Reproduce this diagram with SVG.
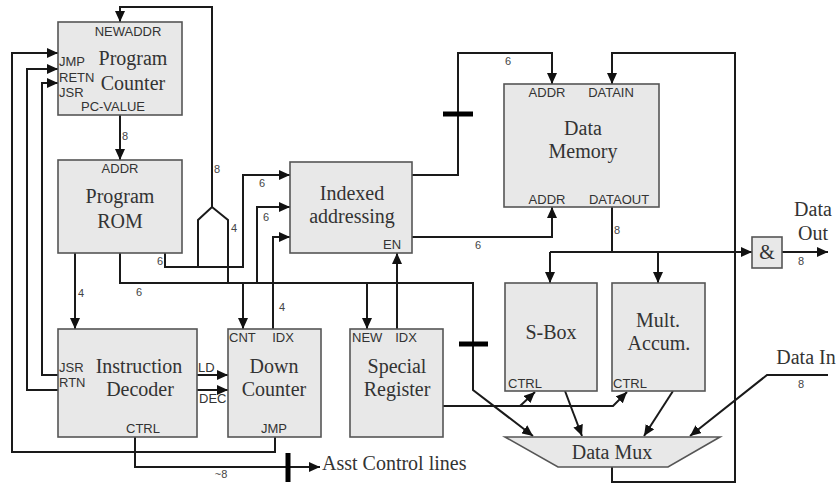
<svg xmlns="http://www.w3.org/2000/svg" width="838" height="486" viewBox="0 0 838 486">
<defs>
<marker id="ah" markerUnits="userSpaceOnUse" markerWidth="12" markerHeight="10" refX="11" refY="5" orient="auto">
<path d="M0,0 L11,5 L0,10 Z" fill="#111"/>
</marker>
<style>
.box{fill:#e8e8e8;stroke:#555;stroke-width:1.6}
.w{fill:none;stroke:#1a1a1a;stroke-width:2}
.a{fill:none;stroke:#1a1a1a;stroke-width:2;marker-end:url(#ah)}
.tk{stroke:#000;stroke-width:5}
.t{font-family:"Liberation Serif",serif;font-size:20px;fill:#333;text-anchor:middle}
.s{font-family:"Liberation Sans",sans-serif;font-size:13px;fill:#333}
.n{font-family:"Liberation Sans",sans-serif;font-size:11px;fill:#444;text-anchor:middle}
.m{text-anchor:middle}
</style>
</defs>
<rect width="838" height="486" fill="#fff"/>
<g id="connectors">
<path class="w" d="M198,267 V220 L212,207 L228,220 V283"/>
<path class="a" d="M212,207 V7 H120 V22"/>
<path class="a" d="M120,115 V160"/>
<path class="a" d="M75,253 V329"/>
<path class="a" d="M165,253 V267 H243 V175 H290"/>
<path class="a" d="M120,253 V283 H473 V390 L533,436"/>
<path class="a" d="M257,283 V207 H290"/>
<path class="a" d="M273,329 V237 H290"/>
<path class="a" d="M243,283 V329"/>
<path class="a" d="M367,283 V329"/>
<path class="a" d="M397,329 V253"/>
<path class="a" d="M412,175 H458 V53 H552 V84"/>
<path class="a" d="M412,237 H552 V207"/>
<path class="w" d="M612,207 V252"/>
<path class="a" d="M550,252 H752"/>
<path class="a" d="M550,252 V283"/>
<path class="a" d="M658,252 V283"/>
<path class="a" d="M782,252 H828"/>
<path class="a" d="M612,467 V482 H735 V53 H612 V84"/>
<path class="a" d="M443,406 H613 L627,392"/>
<path class="a" d="M520,406 L535,392"/>
<path class="a" d="M565,391 L582,436"/>
<path class="a" d="M673,391 L644,436"/>
<path class="a" d="M828,375 H767 L690,436"/>
<path class="a" d="M275,437 V452 H12 V53 H58"/>
<path class="a" d="M58,390 H27 V69 H58"/>
<path class="a" d="M58,375 H42 V83 H58"/>
<path class="a" d="M197,375 H228"/>
<path class="a" d="M197,390 H228"/>
<path class="a" d="M135,437 V467 H320"/>
<line class="tk" x1="443" y1="114" x2="473" y2="114"/>
<line class="tk" x1="459" y1="344" x2="488" y2="344"/>
<line class="tk" x1="288" y1="453" x2="288" y2="482"/>
<text class="n" x="125" y="140">8</text>
<text class="n" x="217" y="173">8</text>
<text class="n" x="160" y="265">6</text>
<text class="n" x="139" y="296">6</text>
<text class="n" x="81" y="297">4</text>
<text class="n" x="234" y="232">4</text>
<text class="n" x="262" y="187">6</text>
<text class="n" x="266" y="221">6</text>
<text class="n" x="282" y="311">4</text>
<text class="n" x="508" y="65">6</text>
<text class="n" x="478" y="249">6</text>
<text class="n" x="617" y="234">8</text>
<text class="n" x="801" y="265">8</text>
<text class="n" x="801" y="388">8</text>
<text class="n" x="221" y="478">~8</text>
<text class="t" x="322" y="470" style="text-anchor:start">Asst Control lines</text>
<text class="t" x="813" y="216">Data</text>
<text class="t" x="813" y="240">Out</text>
<text class="t" x="806" y="364">Data In</text>
</g>
<g id="pc">
<rect class="box" x="58" y="22" width="124" height="93"/>
<text class="s m" x="128" y="36">NEWADDR</text>
<text class="s" x="59" y="66">JMP</text>
<text class="s" x="59" y="82">RETN</text>
<text class="s" x="59" y="97">JSR</text>
<text class="s m" x="113" y="111">PC-VALUE</text>
<text class="t" x="133" y="65">Program</text>
<text class="t" x="133" y="90">Counter</text>
</g>
<g id="rom">
<rect class="box" x="58" y="160" width="124" height="93"/>
<text class="s m" x="120" y="173">ADDR</text>
<text class="t" x="120" y="203">Program</text>
<text class="t" x="120" y="228">ROM</text>
</g>
<g id="indexed">
<rect class="box" x="290" y="162" width="122" height="91"/>
<text class="t" x="352" y="200">Indexed</text>
<text class="t" x="352" y="223">addressing</text>
<text class="s m" x="392" y="249">EN</text>
</g>
<g id="datamem">
<rect class="box" x="504" y="84" width="155" height="123"/>
<text class="s m" x="547" y="97">ADDR</text>
<text class="s m" x="611" y="97">DATAIN</text>
<text class="t" x="583" y="135">Data</text>
<text class="t" x="583" y="158">Memory</text>
<text class="s m" x="547" y="204">ADDR</text>
<text class="s m" x="619" y="204">DATAOUT</text>
</g>
<g id="and">
<rect class="box" x="752" y="237" width="30" height="31"/>
<text class="t" x="767" y="259">&amp;</text>
</g>
<g id="decoder">
<rect class="box" x="58" y="329" width="139" height="108"/>
<text class="s" x="59" y="372">JSR</text>
<text class="s" x="59" y="387">RTN</text>
<text class="t" x="139" y="373">Instruction</text>
<text class="t" x="140" y="396">Decoder</text>
<text class="s m" x="143" y="433">CTRL</text>
<text class="s" x="198" y="372">LD</text>
<text class="s" x="199" y="403">DEC</text>
</g>
<g id="downcounter">
<rect class="box" x="228" y="329" width="93" height="108"/>
<text class="s" x="229" y="342">CNT</text>
<text class="s m" x="283" y="342">IDX</text>
<text class="t" x="274" y="373">Down</text>
<text class="t" x="274" y="396">Counter</text>
<text class="s m" x="274" y="433">JMP</text>
</g>
<g id="specialreg">
<rect class="box" x="350" y="329" width="93" height="108"/>
<text class="s" x="352" y="342">NEW</text>
<text class="s m" x="406" y="342">IDX</text>
<text class="t" x="397" y="373">Special</text>
<text class="t" x="397" y="396">Register</text>
</g>
<g id="sbox">
<rect class="box" x="505" y="283" width="92" height="108"/>
<text class="t" x="551" y="339">S-Box</text>
<text class="s" x="508" y="388">CTRL</text>
</g>
<g id="mult">
<rect class="box" x="612" y="283" width="93" height="108"/>
<text class="t" x="658" y="327">Mult.</text>
<text class="t" x="659" y="350">Accum.</text>
<text class="s" x="613" y="388">CTRL</text>
</g>
<g id="datamux">
<path class="box" d="M505,437 H720 L668,467 H558 Z"/>
<text class="t" x="612" y="459">Data Mux</text>
</g>
</svg>
